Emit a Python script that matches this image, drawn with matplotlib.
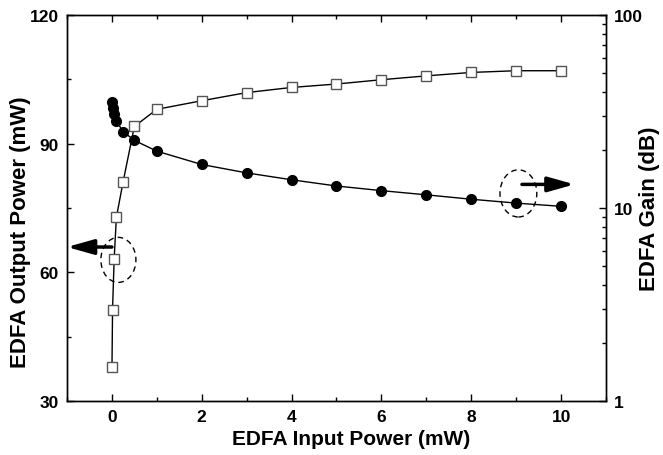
import matplotlib
matplotlib.use("Agg")
import matplotlib.pyplot as plt
from matplotlib.patches import Ellipse
from matplotlib.ticker import MultipleLocator, LogLocator, NullFormatter, FixedLocator

plt.rcParams['font.family'] = ['Liberation Sans', 'DejaVu Sans']
plt.rcParams['font.weight'] = 'bold'

input_power = [0.002, 0.015, 0.05, 0.1, 0.25, 0.5, 1, 2, 3, 4, 5, 6, 7, 8, 9, 10]
output_power = [37.9, 51.3, 63.0, 72.8, 81.1, 94.0, 98.0, 100.0, 101.9, 103.1,
                103.9, 104.9, 105.8, 106.6, 107.0, 107.0]
gain_db = [35.5, 32.8, 30.6, 28.2, 24.9, 22.4, 19.7, 16.8, 15.2, 14.0,
           13.0, 12.3, 11.7, 11.1, 10.6, 10.2]

x_ticks = [0, 2, 4, 6, 8, 10]
left_ticks = [30, 60, 90, 120]
right_ticks = [1, 10, 100]

fig = plt.figure(figsize=(6.63, 4.56), dpi=100)
ax = fig.add_axes([0.101, 0.1184, 0.813, 0.8466])
ax2 = ax.twinx()

ax.plot(input_power, output_power, '-', color='black', lw=1.0, marker='s',
        markersize=6.5, markerfacecolor='white', markeredgecolor='#555555',
        markeredgewidth=1.0, zorder=3)
ax2.plot(input_power, gain_db, '-', color='black', lw=1.0, marker='o',
         markersize=7, markerfacecolor='black', markeredgecolor='black', zorder=3)

ax.set_xlim(-1, 11)
ax.set_ylim(30, 120)
ax2.set_yscale('log')
ax2.set_ylim(1, 100)

ax.xaxis.set_major_locator(FixedLocator(x_ticks))
ax.xaxis.set_minor_locator(MultipleLocator(1))
ax.yaxis.set_major_locator(FixedLocator(left_ticks))
ax.yaxis.set_minor_locator(MultipleLocator(15))
ax2.yaxis.set_major_locator(FixedLocator(right_ticks))
ax2.yaxis.set_minor_locator(LogLocator(base=10, subs=range(2, 10)))
ax2.yaxis.set_minor_formatter(NullFormatter())
ax2.set_yticklabels([str(t) for t in right_ticks])

ax.tick_params(axis='both', which='both', direction='in', top=True, right=False,
               labelsize=12.5, pad=6)
ax.tick_params(which='major', length=5, width=1)
ax.tick_params(which='minor', length=3, width=1)
ax2.tick_params(axis='y', which='both', direction='in', labelsize=12.5, pad=6)
ax2.tick_params(which='major', length=5, width=1)
ax2.tick_params(which='minor', length=3, width=1)

for a in (ax, ax2):
    for s in a.spines.values():
        s.set_linewidth(1.0)
    for lab in a.get_xticklabels() + a.get_yticklabels():
        lab.set_fontweight('bold')

ax.set_xlabel('EDFA Input Power (mW)', fontsize=15, fontweight='bold')
ax.set_ylabel('EDFA Output Power (mW)', fontsize=16, fontweight='bold')
ax2.set_ylabel('EDFA Gain (dB)', fontsize=16, fontweight='bold', rotation=90)
ax.xaxis.set_label_coords(0.527, -0.098)
ax.yaxis.set_label_coords(-0.087, 0.44)
ax2.yaxis.set_label_coords(1.0816, 0.5)
ax2.yaxis.label.set_verticalalignment('center')
ax.xaxis.label.set_verticalalignment('center')
ax.yaxis.label.set_verticalalignment('center')

# annotations: dashed ellipses and arrows
ax.add_patch(Ellipse((0.145, 62.9), 0.78, 10.5, fill=False, ls=(0, (4, 3)),
                     lw=1.0, edgecolor='black', zorder=2))
ax.add_patch(Ellipse((9.05, 78.4), 0.82, 11.0, fill=False, ls=(0, (4, 3)),
                     lw=1.0, edgecolor='black', zorder=2))
ax.annotate('', xy=(-1.0, 65.9), xytext=(0.0, 65.9),
            arrowprops=dict(arrowstyle='-|>,head_length=1.6,head_width=0.45',
                            lw=2.5, color='black', shrinkA=0, shrinkB=0))
ax.annotate('', xy=(10.3, 80.5), xytext=(9.13, 80.5),
            arrowprops=dict(arrowstyle='-|>,head_length=1.6,head_width=0.45',
                            lw=2.5, color='black', shrinkA=0, shrinkB=0))

fig.savefig('out.png', dpi=100)
